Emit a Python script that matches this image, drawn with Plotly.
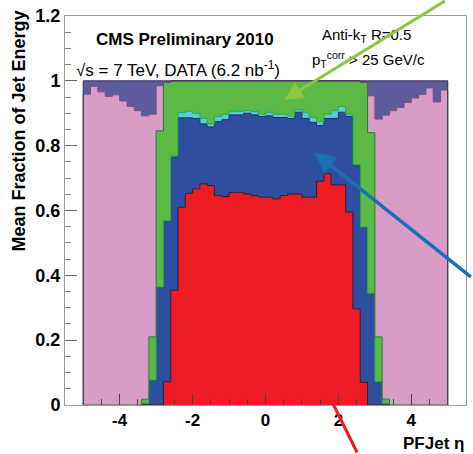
import numpy as np
import plotly.graph_objects as go

# ---------------- data ----------------
eta_lo, eta_hi, n_bins = -5.0, 5.0, 50

charged_had = [0, 0, 0, 0, 0, 0, 0, 0, 0, 0,
               0, .072, .354, .610, .653, .667, .682, .677, .646, .643,
               .655, .656, .651, .646, .641, .641, .636, .646, .651, .651,
               .641, .641, .690, .713, .679, .679, .595, .297, .070, 0,
               0, 0, 0, 0, 0, 0, 0, 0, 0, 0]
photons = [0, 0, 0, 0, 0, 0, 0, 0, .005, .077,
           .364, .497, .411, .276, .233, .217, .185, .181, .228, .237,
           .240, .239, .249, .249, .249, .251, .251, .241, .233, .252,
           .243, .231, .172, .171, .205, .224, .295, .441, .479, .345,
           .072, .005, 0, 0, 0, 0, 0, 0, 0, 0]
electrons = [0, 0, 0, 0, 0, 0, 0, 0, 0, 0,
             0, 0, .004, .016, .020, .016, .017, .009, .016, .017,
             .011, .011, .008, .010, .007, .011, .010, .010, .008, .008,
             .019, .015, .012, .013, .024, .018, .007, .004, 0, 0,
             0, 0, 0, 0, 0, 0, 0, 0, 0, 0]
neutral_had = [0, 0, 0, 0, 0, 0, 0, 0, .013, .133,
               .482, .426, .231, .098, .094, .100, .116, .133, .110, .103,
               .094, .094, .092, .095, .103, .097, .103, .103, .108, .089,
               .097, .113, .126, .103, .092, .079, .103, .258, .446, .495,
               .138, .013, 0, 0, 0, 0, 0, 0, 0, 0]
hf_had = [.959, .983, .966, .952, .957, .938, .921, .908, .874, .687,
          .139, 0, 0, 0, 0, 0, 0, 0, 0, 0,
          0, 0, 0, 0, 0, 0, 0, 0, 0, 0,
          0, 0, 0, 0, 0, 0, 0, 0, 0, .114,
          .672, .876, .908, .918, .933, .947, .958, .978, .935, .972]
hf_em = [.041, .017, .034, .048, .043, .062, .079, .092, .108, .103,
         .015, .005, 0, 0, 0, 0, 0, 0, 0, 0,
         0, 0, 0, 0, 0, 0, 0, 0, 0, 0,
         0, 0, 0, 0, 0, 0, 0, 0, .005, .046,
         .118, .106, .092, .082, .067, .053, .042, .022, .065, .028]

x_tickvals = [-4, -2, 0, 2, 4]
x_ticktext = ['-4', '-2', '0', '2', '4']
y_tickvals = [0, 0.2, 0.4, 0.6, 0.8, 1.0, 1.2]
y_ticktext = ['0', '0.2', '0.4', '0.6', '0.8', '1', '1.2']

layers = [
    (charged_had, '#ED1C24', '#2a1830'),
    (photons, '#2E4FA0', '#1a2a60'),
    (electrons, '#5FC9DC', '#18b04a'),
    (neutral_had, '#5CB946', '#1f7a2a'),
    (hf_had, '#D99CC6', '#7a4a80'),
    (hf_em, '#5E5B9C', '#2e2c5e'),
]

edges = np.linspace(eta_lo, eta_hi, n_bins + 1)
xs = np.concatenate([[edges[0]], edges, [edges[-1]]])

fig = go.Figure()
cum = np.zeros(n_bins)
for i, (vals, fc, lc) in enumerate(layers):
    cum = cum + np.array(vals, dtype=float)
    ys = np.concatenate([[0], cum, [cum[-1], 0]])
    fig.add_trace(go.Scatter(
        x=xs, y=ys, mode='lines', line=dict(shape='hv', color=lc, width=1),
        fill='tozeroy' if i == 0 else 'tonexty', fillcolor=fc,
        showlegend=False, hoverinfo='skip'))

font_fam = 'Liberation Sans, Arial, sans-serif'
fig.update_layout(
    width=473, height=454,
    margin=dict(l=65, r=6, t=14, b=49),
    paper_bgcolor='white', plot_bgcolor='white',
    font=dict(family=font_fam, color='black'),
    xaxis=dict(range=[-5.5, 5.5], tickvals=x_tickvals, ticktext=x_ticktext,
               ticks='inside', ticklen=11, tickcolor='#444', tickwidth=1,
               minor=dict(dtick=0.5, tick0=0, ticks='inside', ticklen=6, tickcolor='#444'),
               showline=True, mirror=True, linecolor='#999', linewidth=1,
               showgrid=False, zeroline=False,
               tickfont=dict(size=17, family=font_fam, weight='bold')),
    yaxis=dict(range=[0, 1.2], tickvals=y_tickvals, ticktext=y_ticktext,
               ticks='inside', ticklen=12, tickcolor='#666', tickwidth=1,
               minor=dict(dtick=0.05, tick0=0, ticks='inside', ticklen=6, tickcolor='#888'),
               showline=True, mirror=True, linecolor='#999', linewidth=1,
               showgrid=False, zeroline=False,
               tickfont=dict(size=18, family=font_fam, weight='bold')),
)

ann = []
ann.append(dict(xref='paper', yref='paper', x=0.2985, y=0.9386, text='<b>CMS Preliminary 2010</b>',
                showarrow=False, font=dict(size=17), xanchor='center', yanchor='middle'))
ann.append(dict(xref='paper', yref='paper', x=0.282, y=0.8645,
                text='√s = 7 TeV, DATA (6.2 nb<sup>-1</sup>)',
                showarrow=False, font=dict(size=17), xanchor='center', yanchor='middle'))
ann.append(dict(xref='paper', yref='paper', x=0.7525, y=0.949,
                text='Anti-k<sub>T</sub> R=0.5',
                showarrow=False, font=dict(size=15), xanchor='center', yanchor='middle'))
ann.append(dict(xref='paper', yref='paper', x=0.757, y=0.887,
                text='p<sub>T</sub><sup>corr</sup> > 25 GeV/c',
                showarrow=False, font=dict(size=15), xanchor='center', yanchor='middle'))
ann.append(dict(xref='paper', yref='paper', x=-0.117, y=0.703, text='<b>Mean Fraction of Jet Energy</b>',
                textangle=-90, showarrow=False, font=dict(size=18), xanchor='center', yanchor='middle'))
ann.append(dict(xref='paper', yref='paper', x=1.0, y=-0.098, text='<b>PFJet η</b>',
                showarrow=False, font=dict(size=17), xanchor='right', yanchor='middle'))
# arrows
ann.append(dict(xref='x', yref='y', x=0.52, y=0.942, ax=162, ay=-100, text='',
                showarrow=True, arrowhead=2, arrowsize=1.2, arrowwidth=3, arrowcolor='#8DC63F'))
ann.append(dict(xref='x', yref='y', x=1.34, y=0.78, ax=158, ay=126, text='',
                showarrow=True, arrowhead=2, arrowsize=1.2, arrowwidth=3.5, arrowcolor='#1A6FB5'))
ann.append(dict(xref='x', yref='y', x=0.86, y=0.23, ax=61, ay=124, text='',
                showarrow=True, arrowhead=2, arrowsize=1.2, arrowwidth=3, arrowcolor='#ED1C24'))
fig.update_layout(annotations=ann)

fig.write_html('out.html')
